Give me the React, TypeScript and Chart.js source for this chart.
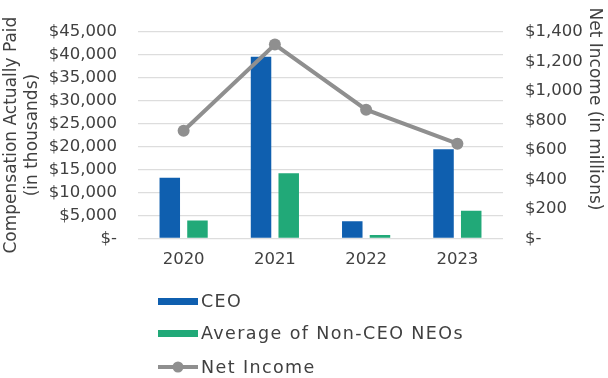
import React, { useEffect, useRef } from "react";
import { Chart, registerables } from "chart.js";

Chart.register(...registerables);

const categories = ["2020", "2021", "2022", "2023"];
const ceoValues = [13200, 39600, 3700, 19400];
const neoValues = [3900, 14200, 700, 6000];
const netIncomeValues = [730, 1314, 872, 642];

const leftTitleLines = ["Compensation Actually Paid", "(in thousands)"];
const rightTitle = "Net Income (in millions)";
const seriesNames = ["CEO", "Average of Non-CEO NEOs", "Net Income"];

const BLUE = "#0F5FAF";
const GREEN = "#21A978";
const GRAY = "#8F8F8F";
const FONT = "'DejaVu Sans', sans-serif";

const fmtMoney = (v: number) => (v === 0 ? "$-" : "$" + v.toLocaleString("en-US"));

const customDecor = {
  id: "customDecor",
  afterDraw(chart: any) {
    const ctx = chart.ctx;
    const area = chart.chartArea;
    ctx.save();
    ctx.fillStyle = "#404040";
    ctx.font = `17px ${FONT}`;
    ctx.textBaseline = "middle";
    ctx.textAlign = "center";
    const cy = (area.top + area.bottom) / 2;
    const xs = [12, 33];
    leftTitleLines.forEach((t, i) => {
      ctx.save();
      ctx.translate(xs[i], cy);
      ctx.rotate(-Math.PI / 2);
      ctx.fillText(t, 0, 0);
      ctx.restore();
    });
    ctx.save();
    ctx.translate(594, 109);
    ctx.rotate(Math.PI / 2);
    ctx.fillText(rightTitle, 0, 0);
    ctx.restore();

    // legend
    const lx0 = 158;
    const lx1 = 198;
    const ys = [301.5, 333.5, 367];
    ctx.textAlign = "left";
    ctx.font = `17.5px ${FONT}`;
    ctx.fillStyle = BLUE;
    ctx.fillRect(lx0, ys[0] - 3.5, lx1 - lx0, 7);
    ctx.fillStyle = GREEN;
    ctx.fillRect(lx0, ys[1] - 3.5, lx1 - lx0, 7);
    ctx.strokeStyle = GRAY;
    ctx.lineWidth = 4;
    ctx.beginPath();
    ctx.moveTo(lx0, ys[2]);
    ctx.lineTo(lx1, ys[2]);
    ctx.stroke();
    ctx.fillStyle = GRAY;
    ctx.beginPath();
    ctx.arc((lx0 + lx1) / 2, ys[2], 5.5, 0, Math.PI * 2);
    ctx.fill();
    ctx.fillStyle = "#404040";
    try {
      (ctx as any).letterSpacing = "1.4px";
    } catch (e) {}
    seriesNames.forEach((n, i) => ctx.fillText(n, 201, ys[i] + 1));
    try {
      (ctx as any).letterSpacing = "0px";
    } catch (e) {}
    ctx.restore();
  },
};

export default function App() {
  const ref = useRef<HTMLCanvasElement>(null);
  useEffect(() => {
    if (!ref.current) return;
    const chart = new Chart(ref.current, {
      type: "bar",
      data: {
        labels: categories,
        datasets: [
          {
            type: "line",
            label: seriesNames[2],
            data: netIncomeValues,
            yAxisID: "y1",
            borderColor: GRAY,
            backgroundColor: GRAY,
            borderWidth: 4,
            pointRadius: 6,
            pointHoverRadius: 6,
            pointBackgroundColor: GRAY,
            pointBorderWidth: 0,
            tension: 0,
            order: 0,
          } as any,
          {
            label: seriesNames[0],
            data: ceoValues,
            backgroundColor: BLUE,
            yAxisID: "y",
            categoryPercentage: 0.607,
            barPercentage: 0.74,
            order: 1,
          },
          {
            label: seriesNames[1],
            data: neoValues,
            backgroundColor: GREEN,
            yAxisID: "y",
            categoryPercentage: 0.607,
            barPercentage: 0.74,
            order: 1,
          },
        ],
      },
      options: {
        animation: false,
        responsive: false,
        maintainAspectRatio: false,
        layout: { padding: { left: 0, right: 0, top: 21.7, bottom: 99.7 } },
        plugins: {
          legend: { display: false },
          tooltip: { enabled: false },
        },
        scales: {
          x: {
            grid: { display: false, drawTicks: false },
            border: { display: false },
            ticks: { color: "#404040", font: { family: FONT, size: 16.5 }, padding: 12 },
            afterFit: (s: any) => {
              s.height = 40;
            },
          },
          y: {
            position: "left",
            min: 0,
            max: 45000,
            grid: { color: "#DDDDDD", lineWidth: 1.3, drawTicks: false },
            border: { display: false },
            ticks: {
              stepSize: 5000,
              color: "#404040",
              font: { family: FONT, size: 16.5 },
              padding: 21,
              callback: (v: any) => fmtMoney(Number(v)),
            },
            afterFit: (s: any) => {
              s.width = 138;
            },
          },
          y1: {
            position: "right",
            min: 0,
            max: 1400,
            grid: { display: false, drawTicks: false },
            border: { display: false },
            ticks: {
              stepSize: 200,
              color: "#404040",
              font: { family: FONT, size: 16.5 },
              padding: 22,
              callback: (v: any) => fmtMoney(Number(v)),
            },
            afterFit: (s: any) => {
              s.width = 105;
            },
          },
        },
      },
      plugins: [customDecor],
    });
    return () => chart.destroy();
  }, []);
  return (
    <div style={{ position: "fixed", left: 0, top: 0, width: 608, height: 378, background: "#fff" }}>
      <canvas ref={ref} width={608} height={378} style={{ width: 608, height: 378, display: "block" }} />
    </div>
  );
}
